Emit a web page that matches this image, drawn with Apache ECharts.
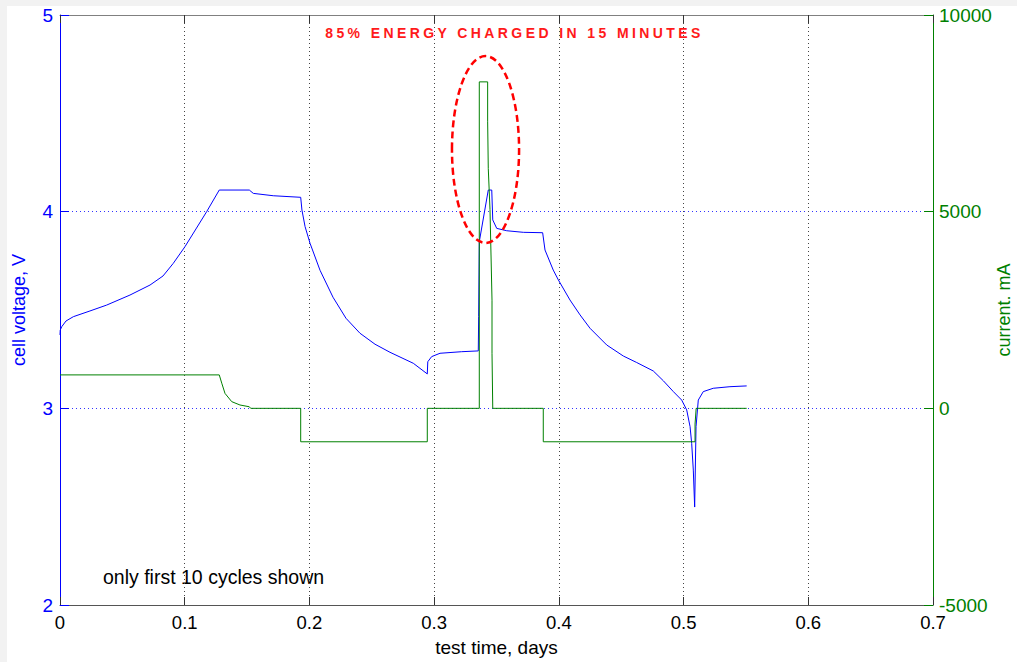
<!DOCTYPE html>
<html>
<head>
<meta charset="utf-8">
<script src="https://cdn.jsdelivr.net/npm/echarts@6/dist/echarts.min.js"></script>
<style>
  html, body { margin: 0; padding: 0; background: #f2f2f2; width: 1017px; height: 662px; overflow: hidden; }
  #chart { position: absolute; left: 7px; top: 6px; width: 1010px; height: 656px; background: #ffffff; }
</style>
</head>
<body>
<div id="chart"></div>
<script>
// ---- data ----
// cell voltage, V  : [test time (days), volts]
const voltage = [
  [0, 3.373], [0.0002, 3.398], [0.0014, 3.415], [0.0048, 3.444], [0.0107, 3.466],
  [0.024, 3.495], [0.0374, 3.525], [0.0561, 3.576], [0.0722, 3.627], [0.0826, 3.673],
  [0.0908, 3.737], [0.1002, 3.822], [0.109, 3.912], [0.1176, 4.0], [0.1277, 4.11],
  [0.1518, 4.11], [0.155, 4.093], [0.171, 4.081], [0.193, 4.073], [0.194, 4.008],
  [0.1965, 3.924], [0.2005, 3.839], [0.2085, 3.702], [0.2189, 3.565], [0.2293, 3.458],
  [0.2405, 3.382], [0.2526, 3.326], [0.2646, 3.285], [0.2833, 3.229], [0.2945, 3.175],
  [0.2949, 3.237], [0.298, 3.263], [0.3047, 3.28], [0.3221, 3.288], [0.3354, 3.292],
  [0.3357, 3.466], [0.3362, 3.847], [0.3434, 4.11], [0.3462, 4.11], [0.347, 3.958],
  [0.3502, 3.915], [0.3582, 3.903], [0.3715, 3.895], [0.387, 3.893], [0.3889, 3.805],
  [0.3955, 3.703], [0.3996, 3.653], [0.4089, 3.551], [0.417, 3.475], [0.425, 3.407],
  [0.4384, 3.322], [0.4517, 3.266], [0.4624, 3.233], [0.4757, 3.19], [0.4838, 3.14],
  [0.4918, 3.085], [0.4985, 3.042], [0.5025, 2.992], [0.5052, 2.907], [0.5065, 2.822],
  [0.5078, 2.686], [0.5089, 2.498], [0.51, 2.907], [0.5118, 3.042], [0.5158, 3.085],
  [0.5238, 3.102], [0.5372, 3.11], [0.5506, 3.114]
];
// current, mA : [test time (days), mA]
const current = [
  [0, 850], [0.1277, 850], [0.1297, 640], [0.1323, 380], [0.1377, 170], [0.1443, 85],
  [0.1518, 40], [0.1529, 0], [0.193, 0], [0.193, -850], [0.2945, -850], [0.2945, 0],
  [0.3362, 0], [0.3362, 8300], [0.3429, 8300], [0.3429, 7300], [0.3434, 6100],
  [0.3448, 5050], [0.3464, 2750], [0.3464, 1400], [0.347, 0], [0.3875, 0],
  [0.3875, -850], [0.5092, -850], [0.5092, -400], [0.5101, 0], [0.5506, 0]
];
// highlighted region: [centre time, centre volts, half-width days, half-height volts]
const highlight = [[0.3412, 4.316, 0.0269, 0.475]];
const xTickLabels = ['0', '0.1', '0.2', '0.3', '0.4', '0.5', '0.6', '0.7'];
const leftTickLabels = ['2', '3', '4', '5'];
const rightTickLabels = ['-5000', '0', '5000', '10000'];
const titleText = '85% ENERGY CHARGED IN 15 MINUTES';
const noteText = 'only first 10 cycles shown';

const FONT = 'Liberation Sans, Arial, sans-serif';
const chart = echarts.init(document.getElementById('chart'), null, { renderer: 'svg' });

const option = {
  animation: false,
  backgroundColor: '#ffffff',
  grid: { left: 53, top: 9, right: 84, bottom: 57, containLabel: false, outerBoundsMode: 'none' },
  xAxis: [
    {
      type: 'value', min: 0, max: 0.7, interval: 0.1, position: 'bottom',
      name: 'test time, days', nameLocation: 'middle', nameGap: 33,
      nameTextStyle: { color: '#000', fontSize: 19, fontFamily: FONT },
      axisLine: { show: true, onZero: false, lineStyle: { color: '#555', width: 1 } },
      axisTick: { show: true, inside: true, length: 8, lineStyle: { color: '#333' } },
      axisLabel: {
        color: '#000', fontSize: 18.5, fontFamily: FONT, margin: 8,
        formatter: v => xTickLabels[Math.round(v * 10)]
      },
      splitLine: {
        show: true, showMinLine: false, showMaxLine: false,
        lineStyle: { color: '#444', type: [1, 3], width: 1 }
      }
    },
    {
      type: 'value', min: 0, max: 0.7, interval: 0.1, position: 'top',
      axisLine: { show: true, onZero: false, lineStyle: { color: '#808080', width: 1 } },
      axisTick: { show: true, inside: true, length: 8, lineStyle: { color: '#333' } },
      axisLabel: { show: false },
      splitLine: { show: false }
    }
  ],
  yAxis: [
    {
      type: 'value', min: 2, max: 5, interval: 1, position: 'left',
      name: 'cell voltage, V', nameLocation: 'middle', nameGap: 32, nameRotate: 90,
      nameMoveOverlap: false,
      nameTextStyle: { color: '#0000ff', fontSize: 18, fontFamily: FONT },
      axisLine: { show: true, onZero: false, lineStyle: { color: '#0000ff', width: 1 } },
      axisTick: { show: true, inside: true, length: 9, lineStyle: { color: '#0000ff' } },
      axisLabel: {
        color: '#0000ff', fontSize: 19, fontFamily: FONT, margin: 7,
        formatter: v => leftTickLabels[Math.round(v - 2)]
      },
      splitLine: {
        show: true, showMinLine: false, showMaxLine: false,
        lineStyle: { color: '#3333ff', type: [1, 3], width: 1 }
      }
    },
    {
      type: 'value', min: -5000, max: 10000, interval: 5000, position: 'right',
      name: 'current. mA', nameLocation: 'middle', nameGap: 62, nameRotate: 90,
      nameMoveOverlap: false,
      nameTextStyle: { color: '#008000', fontSize: 18, fontFamily: FONT },
      axisLine: { show: true, onZero: false, lineStyle: { color: '#008000', width: 1 } },
      axisTick: { show: true, inside: true, length: 9, lineStyle: { color: '#008000' } },
      axisLabel: {
        color: '#008000', fontSize: 19, fontFamily: FONT, margin: 6,
        formatter: v => rightTickLabels[Math.round((v + 5000) / 5000)]
      },
      splitLine: { show: false }
    }
  ],
  graphic: [
    {
      type: 'text', x: 507.5, y: 27, silent: true,
      style: {
        text: titleText, fill: '#ff1a1a',
        font: 'bold 14px ' + FONT, align: 'center', verticalAlign: 'middle'
      }
    },
    {
      type: 'text', x: 96, y: 571, silent: true,
      style: {
        text: noteText, fill: '#000000',
        font: '19.5px ' + FONT, align: 'left', verticalAlign: 'middle'
      }
    }
  ],
  series: [
    {
      name: 'cell voltage', type: 'line', xAxisIndex: 0, yAxisIndex: 0,
      data: voltage, showSymbol: false, symbol: 'none', smooth: false,
      lineStyle: { color: '#0000ff', width: 1 }, z: 2, silent: true
    },
    {
      name: 'current', type: 'line', xAxisIndex: 0, yAxisIndex: 1,
      data: current, showSymbol: false, symbol: 'none', smooth: false,
      lineStyle: { color: '#008000', width: 1 }, z: 3, silent: true
    },
    {
      name: 'highlight', type: 'custom', xAxisIndex: 0, yAxisIndex: 0,
      data: highlight, silent: true, z: 5,
      renderItem: (params, api) => {
        const c = api.coord([api.value(0), api.value(1)]);
        const s = api.size([api.value(2), api.value(3)]);
        return {
          type: 'ellipse',
          shape: { cx: c[0], cy: c[1], rx: s[0], ry: s[1] },
          style: { fill: 'none', stroke: '#ff0000', lineWidth: 2.5, lineDash: [7, 4] }
        };
      }
    }
  ]
};

chart.setOption(option);

function spaceTitle() {
  document.querySelectorAll('#chart text').forEach(t => {
    if (t.textContent === titleText) t.style.letterSpacing = '3.4px';
  });
}
spaceTitle();
chart.on('finished', spaceTitle);
</script>
</body>
</html>
